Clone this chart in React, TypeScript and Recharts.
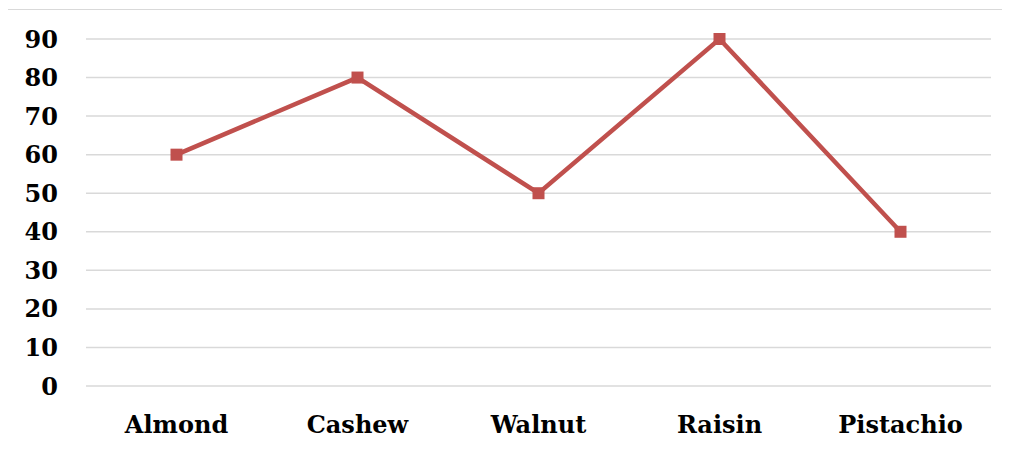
import { CartesianGrid, Line, LineChart, XAxis, YAxis } from "recharts";

const nuts = ["Almond", "Cashew", "Walnut", "Raisin", "Pistachio"];
const amounts = [60, 80, 50, 90, 40];
const yTicks = [0, 10, 20, 30, 40, 50, 60, 70, 80, 90];

const data = nuts.map((name, i) => ({ name, value: amounts[i] }));

const lineColor = "#C0504D";
const tickStyle = { fill: "#000", fontFamily: "'DejaVu Serif', serif", fontWeight: 700, fontSize: 24 };

function SquareDot(props: any) {
  const { cx, cy } = props;
  if (cx == null || cy == null) return null;
  return <rect x={cx - 6} y={cy - 6} width={12} height={12} fill={lineColor} />;
}

export default function App() {
  return (
    <div
      style={{
        position: "relative",
        marginLeft: -1,
        marginTop: 1,
        width: 1010,
        height: 460,
        border: "1px solid #d9d9d9",
        boxSizing: "border-box",
        background: "#fff",
      }}
    >
      <LineChart width={1000} height={443} data={data} margin={{ top: 29, right: 17, left: 0, bottom: 0 }}>
        <CartesianGrid stroke="#d9d9d9" strokeWidth={1.5} vertical={false} />
        <XAxis
          dataKey="name"
          tick={tickStyle}
          tickLine={false}
          axisLine={false}
          tickSize={0}
          tickMargin={30}
          height={67}
          interval={0}
          padding={{ left: 90.5, right: 90.5 }}
        />
        <YAxis
          domain={[0, 90]}
          ticks={yTicks}
          tick={tickStyle}
          tickLine={false}
          axisLine={false}
          tickSize={0}
          tickMargin={28}
          width={78}
          interval={0}
        />
        <Line
          type="linear"
          dataKey="value"
          stroke={lineColor}
          strokeWidth={4.5}
          dot={<SquareDot />}
          activeDot={false}
          isAnimationActive={false}
        />
      </LineChart>
    </div>
  );
}
